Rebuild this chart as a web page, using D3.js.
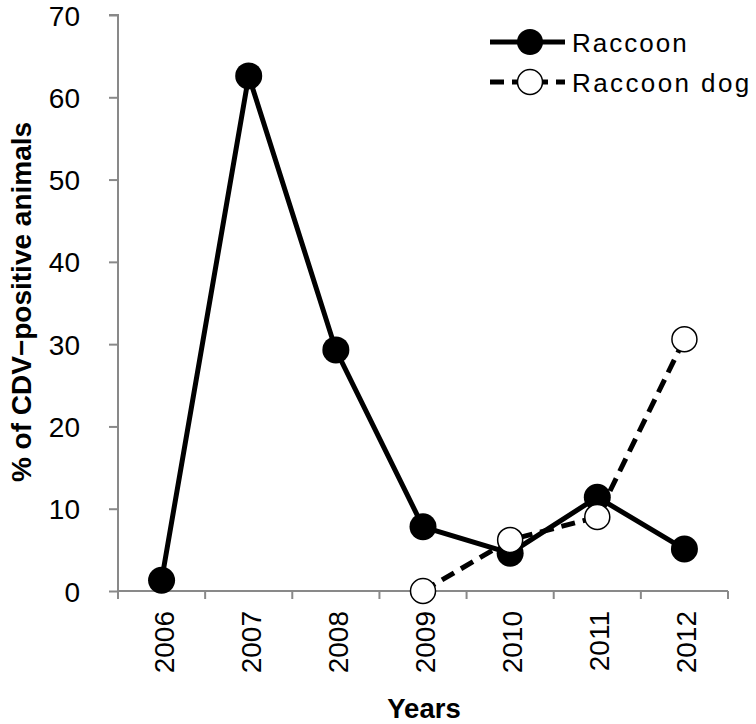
<!DOCTYPE html>
<html><head><meta charset="utf-8">
<script src="https://cdn.jsdelivr.net/npm/d3@7"></script>
<style>body{margin:0;background:#fff;} svg{display:block;font-family:"Liberation Sans",Arial,sans-serif;}</style>
</head><body>
<svg id="chart" width="756" height="724"></svg>
<script>
const years = ["2006","2007","2008","2009","2010","2011","2012"];
const raccoon = [1.3, 62.6, 29.3, 7.8, 4.6, 11.4, 5.1];
const raccoonDog = [null, null, null, 0, 6.2, 9.0, 30.6];
const yTicks = [0,10,20,30,40,50,60,70];

const svg = d3.select("#chart");
const x = d3.scaleBand().domain(years).range([118, 728]);
const y = d3.scaleLinear().domain([0,70]).range([591, 15]);
const cx = d => x(d) + x.bandwidth()/2;
const FONT = "Liberation Sans, Arial, sans-serif";

// Y axis
const ya = svg.append("g").attr("transform","translate(118,0)")
  .call(d3.axisLeft(y).tickValues(yTicks).tickSize(9).tickPadding(29));
ya.selectAll("path,line").attr("stroke","#898989").attr("stroke-width",2);
ya.select(".domain").attr("d","M-9,15H0V591");
ya.selectAll("text").attr("font-size",28).attr("fill","#000").attr("font-family",FONT).attr("dy","0.36em");

// X axis
const xa = svg.append("g").attr("transform","translate(0,591)")
  .call(d3.axisBottom(x).tickSize(0).tickFormat(""));
xa.selectAll("path").attr("stroke","#898989").attr("stroke-width",2);
xa.select(".domain").attr("d","M118,0H728");
const bounds = years.map(d=>x(d)).concat([728]);
svg.append("g").selectAll("line").data(bounds).join("line")
  .attr("x1",d=>d).attr("x2",d=>d).attr("y1",591).attr("y2",599)
  .attr("stroke","#898989").attr("stroke-width",2);
svg.append("g").selectAll("text").data(years).join("text")
  .attr("transform",d=>`translate(${cx(d)+12},611) rotate(-90)`)
  .attr("text-anchor","end").attr("font-size",28).text(d=>d);

// Axis titles
svg.append("text").attr("transform","translate(31,302) rotate(-90)")
  .attr("text-anchor","middle").attr("font-size",28).attr("font-weight","bold")
  .text("% of CDV\u2212positive animals");
svg.append("text").attr("x",424).attr("y",718).attr("text-anchor","middle")
  .attr("font-size",27.5).attr("font-weight","bold").text("Years");

// Lines
const line = d3.line().defined(d=>d.v!=null).x(d=>cx(d.k)).y(d=>y(d.v));
const rData = years.map((k,i)=>({k,v:raccoon[i]}));
const dData = years.map((k,i)=>({k,v:raccoonDog[i]}));
svg.append("path").datum(dData).attr("d",line).attr("fill","none")
  .attr("stroke","#000").attr("stroke-width",5).attr("stroke-dasharray","14,8");
svg.append("path").datum(rData).attr("d",line).attr("fill","none")
  .attr("stroke","#000").attr("stroke-width",5);
svg.append("g").selectAll("circle").data(rData).join("circle")
  .attr("cx",d=>cx(d.k)).attr("cy",d=>y(d.v)).attr("r",13.5).attr("fill","#000");
svg.append("g").selectAll("circle").data(dData.filter(d=>d.v!=null)).join("circle")
  .attr("cx",d=>cx(d.k)).attr("cy",d=>y(d.v)).attr("r",12.5).attr("fill","#fff")
  .attr("stroke","#000").attr("stroke-width",1.5);

// Legend
const lg = svg.append("g");
lg.append("line").attr("x1",490).attr("x2",565).attr("y1",42).attr("y2",42)
  .attr("stroke","#000").attr("stroke-width",5);
lg.append("circle").attr("cx",530).attr("cy",42).attr("r",13).attr("fill","#000");
lg.append("text").attr("x",572).attr("y",52).attr("font-size",26).attr("letter-spacing",2).text("Raccoon");
lg.append("line").attr("x1",490).attr("x2",565).attr("y1",82).attr("y2",82)
  .attr("stroke","#000").attr("stroke-width",5).attr("stroke-dasharray","14,8");
lg.append("circle").attr("cx",530).attr("cy",82).attr("r",12.5).attr("fill","#fff")
  .attr("stroke","#000").attr("stroke-width",1.5);
lg.append("text").attr("x",572).attr("y",92).attr("font-size",26).attr("letter-spacing",2.4).text("Raccoon dog");
</script>
</body></html>
